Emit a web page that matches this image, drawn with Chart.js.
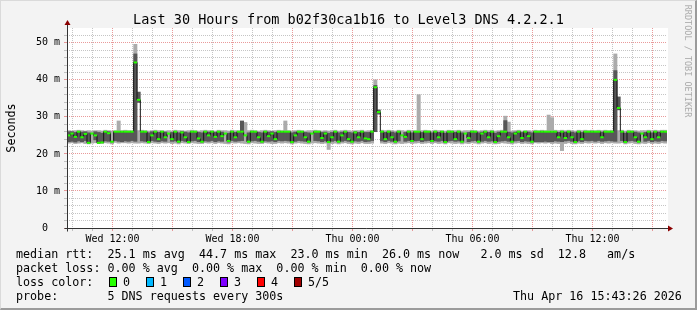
<!DOCTYPE html>
<html>
<head>
<meta charset="utf-8">
<script src="https://cdn.jsdelivr.net/npm/chart.js@4/dist/chart.umd.min.js"></script>
<style>
  html, body { margin: 0; padding: 0; background: #f3f3f3; }
  #wrap { position: relative; width: 697px; height: 310px; overflow: hidden; font-family: 'DejaVu Sans Mono', monospace; color: #000; }
  #frame { position: absolute; left: 0; top: 0; width: 697px; height: 310px; box-sizing: border-box;
           border-top: 1px solid #dadada; border-left: 1px solid #dadada; border-right: 2px solid #9b9b9b; border-bottom: 2px solid #9b9b9b; pointer-events: none; }
  canvas { position: absolute; left: 0; top: 0; }
  .t { position: absolute; white-space: pre; font-size: 11.7px; line-height: 14px; }
  #title { position: absolute; left: 0; top: 11px; width: 697px; text-align: center; font-size: 13.5px; line-height: 16px; white-space: pre; }
  #ylab { position: absolute; left: -19px; top: 121px; width: 60px; text-align: center; font-size: 11.7px; line-height: 14px; transform: rotate(-90deg); }
  #credit { position: absolute; left: 628px; top: 56px; width: 120px; text-align: center; font-size: 8.5px; line-height: 10px; color: #ababab; transform: rotate(90deg); white-space: pre; }
  .box { position: absolute; width: 8px; height: 10px; box-sizing: border-box; border: 1px solid #000; }
</style>
</head>
<body>
<div id="wrap">
  <canvas id="chart" width="697" height="310"></canvas>
  <div id="title">Last 30 Hours from b02f30ca1b16 to Level3 DNS 4.2.2.1</div>
  <div id="ylab">Seconds</div>
  <div id="credit">RRDTOOL / TOBI OETIKER</div>
  <div class="t" style="left:16px; top:247px;">median rtt:  25.1 ms avg  44.7 ms max  23.0 ms min  26.0 ms now   2.0 ms sd  12.8   am/s</div>
  <div class="t" style="left:16px; top:261px;">packet loss: 0.00 % avg  0.00 % max  0.00 % min  0.00 % now</div>
  <div class="t" style="left:16px; top:275px;">loss color:</div>
  <div id="loss"></div>
  <div class="t" style="left:16px; top:289px;">probe:       5 DNS requests every 300s</div>
  <div class="t" style="left:513px; top:289px;">Thu Apr 16 15:43:26 2026</div>
  <div id="frame"></div>
</div>
<script>
// Zeitachse: Wed 09:43:26 bis Thu 15:43:26, eine Probe alle 10 Minuten
const startHour = 9 + 43 / 60 + 26 / 3600;
const spanHours = 30;
const stepHours = 10 / 60;

// median rtt (ms)
const median = [
  25.0,25.5,24.6,26.0,24.5,25.4,23.0,25.5,25.0,23.0,
  23.1,26.0,25.6,23.3,26.0,26.0,26.0,26.0,26.0,26.0,
  44.7,34.6,26.0,26.0,23.2,25.0,26.0,24.0,26.0,24.5,
  25.5,24.0,26.0,23.3,25.8,24.5,23.2,26.0,26.0,24.2,
  23.3,26.0,25.0,26.0,24.6,26.0,24.8,25.5,23.5,26.0,
  24.5,26.0,26.0,25.0,23.3,26.0,26.0,24.5,23.3,26.0,
  24.8,25.5,24.0,26.0,26.0,26.0,26.0,23.2,25.0,26.0,
  26.0,24.5,23.3,25.5,26.0,26.0,24.3,25.5,23.2,24.5,
  26.0,23.3,25.0,26.0,24.0,23.3,25.8,24.5,26.0,24.2,
  24.0,26.0,38.0,31.3,26.0,24.0,26.0,24.5,23.3,26.0,
  25.0,24.6,26.0,23.5,26.0,26.0,24.0,26.0,26.0,23.5,
  26.0,24.5,26.0,23.2,26.0,26.0,24.0,26.0,23.3,25.5,
  24.3,26.0,26.0,23.3,25.5,26.0,24.5,26.0,23.2,24.8,
  26.0,26.0,24.5,23.3,25.5,26.0,24.3,26.0,24.8,23.3,
  26.0,26.0,26.0,26.0,26.0,26.0,26.0,24.5,26.0,24.3,
  26.0,24.5,23.2,26.0,24.0,26.0,26.0,26.0,26.0,26.0,
  24.5,26.0,26.0,26.0,40.0,32.4,26.0,23.2,26.0,26.0,
  24.5,23.3,25.5,24.5,26.0,24.0,26.0,24.5,26.0,26.0
];

// smoke, hell (min / max der Einzelwerte)
const smokeLo = [
  22.9,23.0,22.8,22.9,23.0,22.8,22.7,22.9,23.0,22.8,
  22.8,23.0,22.9,22.7,23.1,22.9,23.0,23.0,22.9,23.0,
  22.9,22.9,23.0,22.9,22.8,23.0,22.9,22.8,23.0,22.9,
  23.0,22.8,22.9,22.7,23.0,22.9,22.8,23.0,22.9,22.8,
  22.8,23.0,22.9,23.0,22.8,23.0,22.9,22.8,22.7,23.0,
  22.9,23.0,22.9,22.8,22.7,23.0,22.9,22.8,22.8,23.0,
  22.9,22.8,22.8,23.0,22.9,23.0,22.9,22.7,22.9,23.0,
  22.9,22.8,22.7,22.9,23.0,22.9,22.8,22.9,21.2,22.8,
  22.9,22.7,22.9,23.0,22.8,22.7,22.9,22.8,23.0,22.8,
  22.8,22.9,26.0,30.6,22.9,22.8,23.0,22.9,22.7,22.9,
  22.8,22.9,23.0,22.8,22.9,23.0,22.8,22.9,23.0,22.8,
  23.0,22.8,22.9,22.7,23.0,22.9,22.8,22.9,22.7,22.9,
  22.8,23.0,22.9,22.7,22.9,23.0,22.8,22.9,22.7,22.8,
  23.0,22.9,22.8,22.7,22.9,23.0,22.8,22.9,22.8,22.7,
  23.0,22.9,23.0,22.9,23.0,22.8,22.9,22.8,20.9,22.8,
  23.0,22.8,22.7,22.9,22.8,23.0,22.9,23.0,22.9,23.0,
  22.8,23.0,22.9,23.0,22.9,22.9,23.0,22.7,22.9,23.0,
  22.8,22.7,22.9,22.8,23.0,22.8,22.9,22.8,23.0,22.9
];
const smokeHi = [
  26.3,26.2,26.3,26.4,26.3,26.2,26.3,26.2,26.3,26.3,
  26.2,26.4,26.3,26.2,26.3,28.9,26.3,26.4,26.3,26.3,
  49.6,26.3,26.4,26.3,26.2,26.3,26.4,26.3,26.3,26.2,
  26.3,26.2,26.4,26.3,26.3,26.2,26.3,26.4,26.3,26.2,
  26.3,26.4,26.3,26.3,26.2,26.4,26.3,26.3,26.2,26.4,
  26.3,26.3,29.0,28.5,26.3,26.4,26.3,26.2,26.3,26.4,
  26.3,26.2,26.3,26.4,26.3,28.9,26.3,26.2,26.3,26.4,
  26.3,26.2,26.3,26.3,26.4,26.3,26.2,26.3,26.2,26.3,
  26.4,26.2,26.3,26.4,26.3,26.2,26.3,26.3,26.4,26.2,
  26.3,26.4,40.0,32.0,26.4,26.3,26.4,26.3,26.2,26.4,
  26.3,26.2,26.4,26.3,26.3,36.0,26.3,26.4,26.3,26.2,
  26.4,26.3,26.3,26.2,26.4,26.3,26.3,26.4,26.2,26.3,
  26.3,26.4,26.3,26.2,26.3,26.4,26.3,26.4,26.2,26.3,
  26.4,30.2,28.6,26.2,26.3,26.4,26.2,26.3,26.3,26.2,
  26.4,26.3,26.4,26.3,30.5,29.8,26.4,26.3,26.4,26.3,
  26.4,26.3,26.2,26.4,26.3,26.4,26.3,26.4,26.3,26.4,
  26.3,26.4,26.3,26.4,47.0,26.3,26.4,26.2,26.4,26.3,
  26.3,26.2,26.3,26.3,26.4,26.3,26.4,26.3,26.4,26.4
];

// smoke, dunkel (innere Werte), null = kein dunkler Anteil
const darkLo = [
  23.3,23.4,23.2,23.5,23.3,23.6,23.2,null,23.8,23.2,
  23.3,23.5,23.4,null,23.6,23.4,23.3,23.5,23.4,23.6,
  23.4,33.9,23.5,23.4,23.3,23.6,23.4,23.3,23.5,23.4,
  null,23.4,23.5,23.2,23.6,23.4,23.3,23.5,23.6,23.3,
  23.3,23.5,23.4,23.6,23.3,23.5,23.4,null,23.2,23.6,
  23.4,23.5,23.6,null,23.3,23.5,23.6,23.4,23.3,23.5,
  23.4,23.5,23.3,23.6,23.5,23.6,23.5,23.2,23.4,23.6,
  23.5,23.4,23.3,null,23.6,23.5,23.3,23.5,23.2,23.4,
  23.6,23.3,23.4,23.6,23.4,23.3,23.5,23.4,23.6,23.3,
  23.4,23.6,26.0,30.9,23.5,23.3,23.6,23.4,23.3,23.5,
  null,23.4,23.6,23.4,23.5,23.6,23.3,23.5,23.6,23.3,
  23.5,23.4,23.6,23.2,23.5,23.6,23.4,23.5,23.3,null,
  23.3,23.5,23.6,23.3,23.4,23.6,23.4,23.5,23.2,23.4,
  23.5,23.6,23.4,23.3,23.5,23.6,23.3,23.5,23.4,23.3,
  23.3,23.3,23.3,23.4,23.3,23.3,23.5,23.4,23.3,23.5,
  23.6,23.4,23.2,23.5,23.3,23.6,23.5,23.6,23.4,23.6,
  23.4,23.5,23.6,23.5,23.4,31.9,23.6,23.2,23.5,23.6,
  23.4,23.3,null,23.4,23.6,23.3,23.5,23.4,23.6,23.5
];
const darkHi = [
  26.0,26.0,25.8,26.0,25.9,26.0,25.7,null,26.0,25.8,
  25.6,26.0,26.0,null,26.0,26.0,26.0,26.0,26.0,26.0,
  47.0,36.7,26.0,26.0,25.7,26.0,26.0,25.8,26.0,25.9,
  null,25.8,26.0,25.7,26.0,25.9,25.7,26.0,26.0,25.8,
  25.7,26.0,25.9,26.0,25.8,26.0,25.9,null,25.6,26.0,
  25.8,26.0,28.8,null,25.7,26.0,26.0,25.8,25.7,26.0,
  25.9,26.0,25.8,26.0,26.0,26.0,26.0,25.7,25.9,26.0,
  26.0,25.8,25.7,null,26.0,26.0,25.8,25.9,25.6,25.8,
  26.0,25.7,25.9,26.0,25.8,25.7,26.0,25.8,26.0,25.8,
  25.8,26.0,38.5,31.8,26.0,25.8,26.0,25.9,25.7,26.0,
  null,25.8,26.0,25.7,26.0,26.0,25.8,26.0,26.0,25.7,
  26.0,25.8,26.0,25.6,26.0,26.0,25.8,26.0,25.7,null,
  25.8,26.0,26.0,25.7,25.9,26.0,25.8,26.0,25.6,25.9,
  26.0,29.0,25.9,25.7,25.9,26.0,25.8,26.0,25.9,25.7,
  26.0,26.0,26.0,26.0,26.0,26.0,26.0,25.8,26.0,25.9,
  26.0,25.9,25.7,26.0,25.8,26.0,26.0,26.0,26.0,26.0,
  25.9,26.0,26.0,26.0,42.5,35.4,26.0,25.6,26.0,26.0,
  25.9,25.7,null,25.8,26.0,25.7,26.0,25.9,26.0,26.0
];

// Achsen
const xLabelHours = [12, 18, 24, 30, 36];
const xLabelText = ['Wed 12:00', 'Wed 18:00', 'Thu 00:00', 'Thu 06:00', 'Thu 12:00'];
const yMax = 54;
const yLabelValues = [0, 10, 20, 30, 40, 50];
const yLabelText = ['0  ', '10 m', '20 m', '30 m', '40 m', '50 m'];

const lossLabels = ['0', '1', '2', '3', '4', '5/5'];
const lossColors = ['#26ff00', '#00b8ff', '#0059ff', '#7e00ff', '#ff0000', '#a10000'];

const MINOR = 'rgba(150,150,150,0.55)';
const MAJOR = 'rgba(225,120,120,0.75)';

// Legende für Verlustfarben
const loss = document.getElementById('loss');
lossLabels.forEach(function (lbl, i) {
    const b = document.createElement('div');
    b.className = 'box';
    b.style.left = (109 + i * 37) + 'px';
    b.style.top = '277px';
    b.style.background = lossColors[i];
    loss.appendChild(b);
    const t = document.createElement('div');
    t.className = 't';
    t.style.left = (123 + i * 37) + 'px';
    t.style.top = '275px';
    t.textContent = lbl;
    loss.appendChild(t);
});

const times = median.map((_, i) => startHour + (i + 0.5) * stepHours);
const gridHours = [];
for (let h = Math.ceil(startHour); h <= startHour + spanHours; h++) gridHours.push(h);
const gridY = [];
for (let v = 0; v < yMax; v += 2) gridY.push(v);

function rangeData(lo, hi) {
    const out = [];
    lo.forEach((v, i) => { if (v != null) out.push({ x: times[i], y: [v, hi[i]] }); });
    return out;
}
const medianData = median.map((v, i) => ({ x: times[i], y: v }));

// Hintergrund der Zeichenfläche + Achsen mit Pfeilen
const frameParts = {
    id: 'frameParts',
    beforeDraw(chart) {
        const a = chart.chartArea, ctx = chart.ctx;
        ctx.save();
        ctx.fillStyle = '#ffffff';
        ctx.fillRect(a.left, a.top, a.right - a.left + 1, a.bottom - a.top);
        ctx.restore();
    },
    afterDraw(chart) {
        const a = chart.chartArea, ctx = chart.ctx;
        const x0 = Math.round(a.left) + 0.5, y0 = Math.round(a.bottom) + 0.5;
        ctx.save();
        ctx.strokeStyle = '#333';
        ctx.lineWidth = 1;
        ctx.beginPath();
        ctx.moveTo(x0, y0 + 3); ctx.lineTo(x0, a.top - 5);
        ctx.moveTo(x0 - 3, y0); ctx.lineTo(a.right + 2, y0);
        ctx.stroke();
        ctx.fillStyle = '#8b0000';
        ctx.beginPath();
        ctx.moveTo(x0, a.top - 8); ctx.lineTo(x0 - 3, a.top - 3); ctx.lineTo(x0 + 3, a.top - 3);
        ctx.closePath(); ctx.fill();
        ctx.beginPath();
        ctx.moveTo(a.right + 6, y0); ctx.lineTo(a.right + 1, y0 - 3); ctx.lineTo(a.right + 1, y0 + 3);
        ctx.closePath(); ctx.fill();
        ctx.restore();
    }
};

const tickFont = { family: 'DejaVu Sans Mono', size: 10 };

new Chart(document.getElementById('chart').getContext('2d'), {
    type: 'bar',
    data: {
        datasets: [
            {
                type: 'line', data: medianData, showLine: false,
                pointStyle: 'line', pointRadius: 1.7, pointBorderWidth: 2,
                pointBorderColor: lossColors[0], pointBackgroundColor: lossColors[0],
                order: 0
            },
            {
                type: 'line', data: medianData, stepped: 'middle',
                borderColor: '#151515', borderWidth: 1, pointRadius: 0, fill: false,
                order: 1
            },
            {
                data: rangeData(darkLo, darkHi), backgroundColor: '#575757',
                borderWidth: 0, grouped: false, barPercentage: 1, categoryPercentage: 1,
                order: 2
            },
            {
                data: rangeData(smokeLo, smokeHi), backgroundColor: '#ababab',
                borderWidth: 0, grouped: false, barPercentage: 1, categoryPercentage: 1,
                order: 3
            }
        ]
    },
    options: {
        responsive: false,
        animation: false,
        events: [],
        layout: { padding: { top: 28, right: 30, left: 0, bottom: 0 } },
        plugins: { legend: { display: false }, tooltip: { enabled: false }, title: { display: false } },
        scales: {
            x: {
                type: 'linear', min: startHour, max: startHour + spanHours, offset: false,
                afterBuildTicks: s => { s.ticks = gridHours.map(v => ({ value: v })); },
                afterFit: s => { s.height = 82; },
                grid: {
                    offset: false, lineWidth: 1, tickLength: 3,
                    color: c => (c.tick && c.tick.value % 3 === 0) ? MAJOR : MINOR,
                    tickColor: c => (c.tick && c.tick.value % 3 === 0) ? MAJOR : MINOR
                },
                border: { display: false, dash: [1, 1] },
                ticks: {
                    autoSkip: false, maxRotation: 0, minRotation: 0, padding: 2, color: '#000', font: tickFont,
                    callback: v => { const k = xLabelHours.indexOf(v); return k < 0 ? '' : xLabelText[k]; }
                }
            },
            y: {
                min: 0, max: yMax,
                afterBuildTicks: s => { s.ticks = gridY.map(v => ({ value: v })); },
                afterFit: s => { s.width = 67; },
                grid: {
                    lineWidth: 1, tickLength: 3,
                    color: c => (c.tick && c.tick.value % 10 === 0) ? MAJOR : MINOR,
                    tickColor: c => (c.tick && c.tick.value % 10 === 0) ? MAJOR : MINOR
                },
                border: { display: false, dash: [1, 1] },
                ticks: {
                    autoSkip: false, padding: 4, color: '#000', font: tickFont,
                    callback: v => { const k = yLabelValues.indexOf(v); return k < 0 ? '' : yLabelText[k]; }
                }
            }
        }
    },
    plugins: [frameParts]
});
</script>
</body>
</html>
